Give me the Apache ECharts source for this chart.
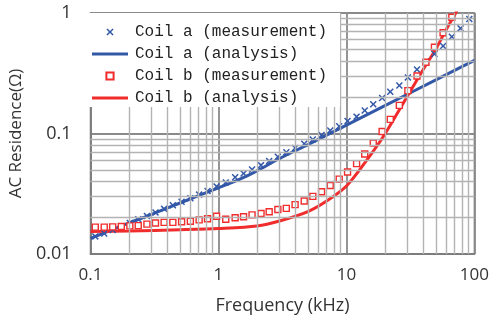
<!DOCTYPE html>
<html>
<head>
<meta charset="utf-8">
<script src="https://cdn.jsdelivr.net/npm/echarts@6/dist/echarts.min.js"></script>
<style>
html,body{margin:0;padding:0;background:#fff;}
#chart{width:492px;height:325px;}
</style>
</head>
<body>
<div id="chart"></div>
<script>
// Measurement frequencies (kHz)
var measFreq = [0.109, 0.128, 0.149, 0.174, 0.203, 0.236, 0.276, 0.322, 0.376, 0.440,
  0.515, 0.603, 0.706, 0.821, 0.966, 1.14, 1.35, 1.57, 1.83, 2.15,
  2.49, 2.91, 3.39, 3.97, 4.68, 5.46, 6.39, 7.47, 8.78, 10.2,
  12.0, 13.9, 16.2, 19.0, 22.0, 25.9, 30.2, 35.6, 41.8, 48.7,
  56.9, 66.6, 77.9, 91.2];
// Coil a measured AC resistance (ohm)
var coilAMeas = [0.0140, 0.0148, 0.0158, 0.0170, 0.0181, 0.0194, 0.0207, 0.0221, 0.0237, 0.0254,
  0.0271, 0.0290, 0.0311, 0.0333, 0.0364, 0.0393, 0.0433, 0.0465, 0.0503, 0.0546,
  0.0590, 0.0641, 0.0698, 0.0758, 0.0823, 0.0892, 0.0972, 0.106, 0.115, 0.127,
  0.138, 0.155, 0.175, 0.197, 0.222, 0.250, 0.292, 0.340, 0.394, 0.457,
  0.532, 0.636, 0.746, 0.892];
// Coil b measured AC resistance (ohm)
var coilBMeas = [0.0167, 0.0167, 0.0168, 0.0169, 0.0171, 0.0172, 0.0177, 0.0181, 0.0183, 0.0183,
  0.0185, 0.0187, 0.0192, 0.0196, 0.0206, 0.0194, 0.0200, 0.0204, 0.0211, 0.0217,
  0.0224, 0.0234, 0.0239, 0.0257, 0.0275, 0.0301, 0.0329, 0.0370, 0.0418, 0.0479,
  0.0562, 0.0676, 0.0834, 0.104, 0.131, 0.171, 0.227, 0.300, 0.390, 0.519,
  0.686, 0.921];
// Coil a analysis
var coilAFreq = [0.1, 0.2, 0.3, 0.5, 1, 1.5, 2, 3, 5, 7, 10, 20, 50, 100];
var coilAAna  = [0.0135, 0.0181, 0.0213, 0.0265, 0.0354, 0.0422, 0.049, 0.062, 0.0809, 0.0968, 0.1174, 0.1704, 0.2785, 0.4043];
// Coil b analysis
var coilBFreq = [0.1, 0.2, 0.5, 1, 2, 3, 5, 7, 10, 15, 20, 30, 40, 50, 60, 70, 80];
var coilBAna  = [0.0154, 0.0155, 0.0159, 0.0163, 0.0171, 0.0188, 0.0225, 0.0275, 0.0367, 0.0638, 0.0991, 0.205, 0.343, 0.503, 0.723, 0.963, 1.25];

var seriesNames = ['Coil a (measurement)', 'Coil a (analysis)', 'Coil b (measurement)', 'Coil b (analysis)'];
var xTicks = [0.1, 1, 10, 100];
var yTicks = [0.01, 0.1, 1];
var X_MIN = 0.1, X_MAX = 100, Y_MIN = 0.01, Y_MAX = 1;

function pairs(xs, ys) { var out = []; for (var i = 0; i < ys.length; i++) out.push([xs[i], ys[i]]); return out; }

// minor grid positions (2..9 within each decade), drawn as two-point mark lines
var minorLines = [];
[0.1, 1, 10].forEach(function (d) { for (var k = 2; k <= 9; k++) { var v = +(d * k).toPrecision(3); minorLines.push([{ coord: [v, Y_MIN] }, { coord: [v, Y_MAX] }]); } });
[0.01, 0.1].forEach(function (d) { for (var k = 2; k <= 9; k++) { var v = +(d * k).toPrecision(3); minorLines.push([{ coord: [X_MIN, v] }, { coord: [X_MAX, v] }]); } });

var BLUE = '#3358A8', RED = '#F02C2C';
var crossPath = 'path://M0,1.5L1.5,0L5,3.5L8.5,0L10,1.5L6.5,5L10,8.5L8.5,10L5,6.5L1.5,10L0,8.5L3.5,5Z';
var barIcon = 'path://M0,0L0.01,0L0,0.01ZM0,10L0.01,10L0,9.99ZM0,3.4H40V6.6H0Z';
var labelFont = 'Open Sans';

var chart = echarts.init(document.getElementById('chart'), null, { renderer: 'canvas' });
chart.setOption({
  animation: false,
  backgroundColor: '#fff',
  grid: { left: 80, right: 16, top: 13, bottom: 71, show: true, borderColor: '#7a7a7a', borderWidth: 1.5, backgroundColor: 'transparent' },
  xAxis: {
    type: 'log', logBase: 10, min: X_MIN, max: X_MAX,
    name: 'Frequency (kHz)', nameLocation: 'middle', nameGap: 43,
    nameTextStyle: { fontFamily: labelFont, fontSize: 18, color: '#333' },
    axisLine: { show: true, lineStyle: { color: '#7a7a7a', width: 1.5 } },
    axisTick: { show: false },
    axisLabel: { fontFamily: labelFont, fontSize: 17, color: '#333', margin: 13,
      formatter: function (v) { return xTicks.indexOf(+v.toPrecision(3)) >= 0 ? String(+v.toPrecision(3)) : ''; } },
    splitLine: { show: true, lineStyle: { color: '#8a8a8a', width: 1.8 } }
  },
  yAxis: {
    type: 'log', logBase: 10, min: Y_MIN, max: Y_MAX,
    name: 'AC Residence(Ω)', nameLocation: 'middle', nameGap: 47,
    nameTextStyle: { fontFamily: labelFont, fontSize: 17, color: '#333' },
    axisLine: { show: true, lineStyle: { color: '#7a7a7a', width: 1.5 } },
    axisTick: { show: false },
    axisLabel: { fontFamily: labelFont, fontSize: 18, color: '#333', margin: 19,
      formatter: function (v) { return yTicks.indexOf(+v.toPrecision(3)) >= 0 ? String(+v.toPrecision(3)) : ''; } },
    splitLine: { show: true, lineStyle: { color: '#8a8a8a', width: 1.8 } }
  },
  legend: {
    data: [
      { name: seriesNames[0] },
      { name: seriesNames[1], icon: barIcon },
      { name: seriesNames[2] },
      { name: seriesNames[3], icon: barIcon }
    ],
    orient: 'vertical', left: 80, top: 13, z: 10,
    padding: [11, 13, 1, 10],
    itemGap: 6, itemWidth: 40, itemHeight: 9,
    backgroundColor: '#ffffff',
    textStyle: { fontFamily: 'Liberation Mono', fontSize: 16, color: '#222', lineHeight: 16 }
  },
  series: [
    { name: 'grid', type: 'line', data: [[X_MIN, Y_MIN]], symbol: 'none', lineStyle: { opacity: 0 }, z: 1, silent: true,
      markLine: { silent: true, symbol: ['none', 'none'], label: { show: false },
        lineStyle: { color: '#b3b3b3', width: 1.4, type: 'solid' }, data: minorLines, animation: false } },
    { name: seriesNames[0], type: 'line', data: pairs(measFreq, coilAMeas), z: 3,
      symbol: crossPath, symbolSize: 7, lineStyle: { width: 0, opacity: 0 }, itemStyle: { color: BLUE } },
    { name: seriesNames[1], type: 'line', data: pairs(coilAFreq, coilAAna), z: 2, smooth: 0.3,
      symbol: 'none', lineStyle: { color: BLUE, width: 3 }, itemStyle: { color: BLUE } },
    { name: seriesNames[2], type: 'line', data: pairs(measFreq, coilBMeas), z: 3,
      symbol: 'rect', symbolSize: 6, lineStyle: { width: 0, opacity: 0 },
      itemStyle: { color: '#ffffff', borderColor: RED, borderWidth: 1.4 } },
    { name: seriesNames[3], type: 'line', data: pairs(coilBFreq, coilBAna), z: 2, smooth: 0.3,
      symbol: 'none', lineStyle: { color: RED, width: 3 }, itemStyle: { color: RED } }
  ]
});
</script>
</body>
</html>
